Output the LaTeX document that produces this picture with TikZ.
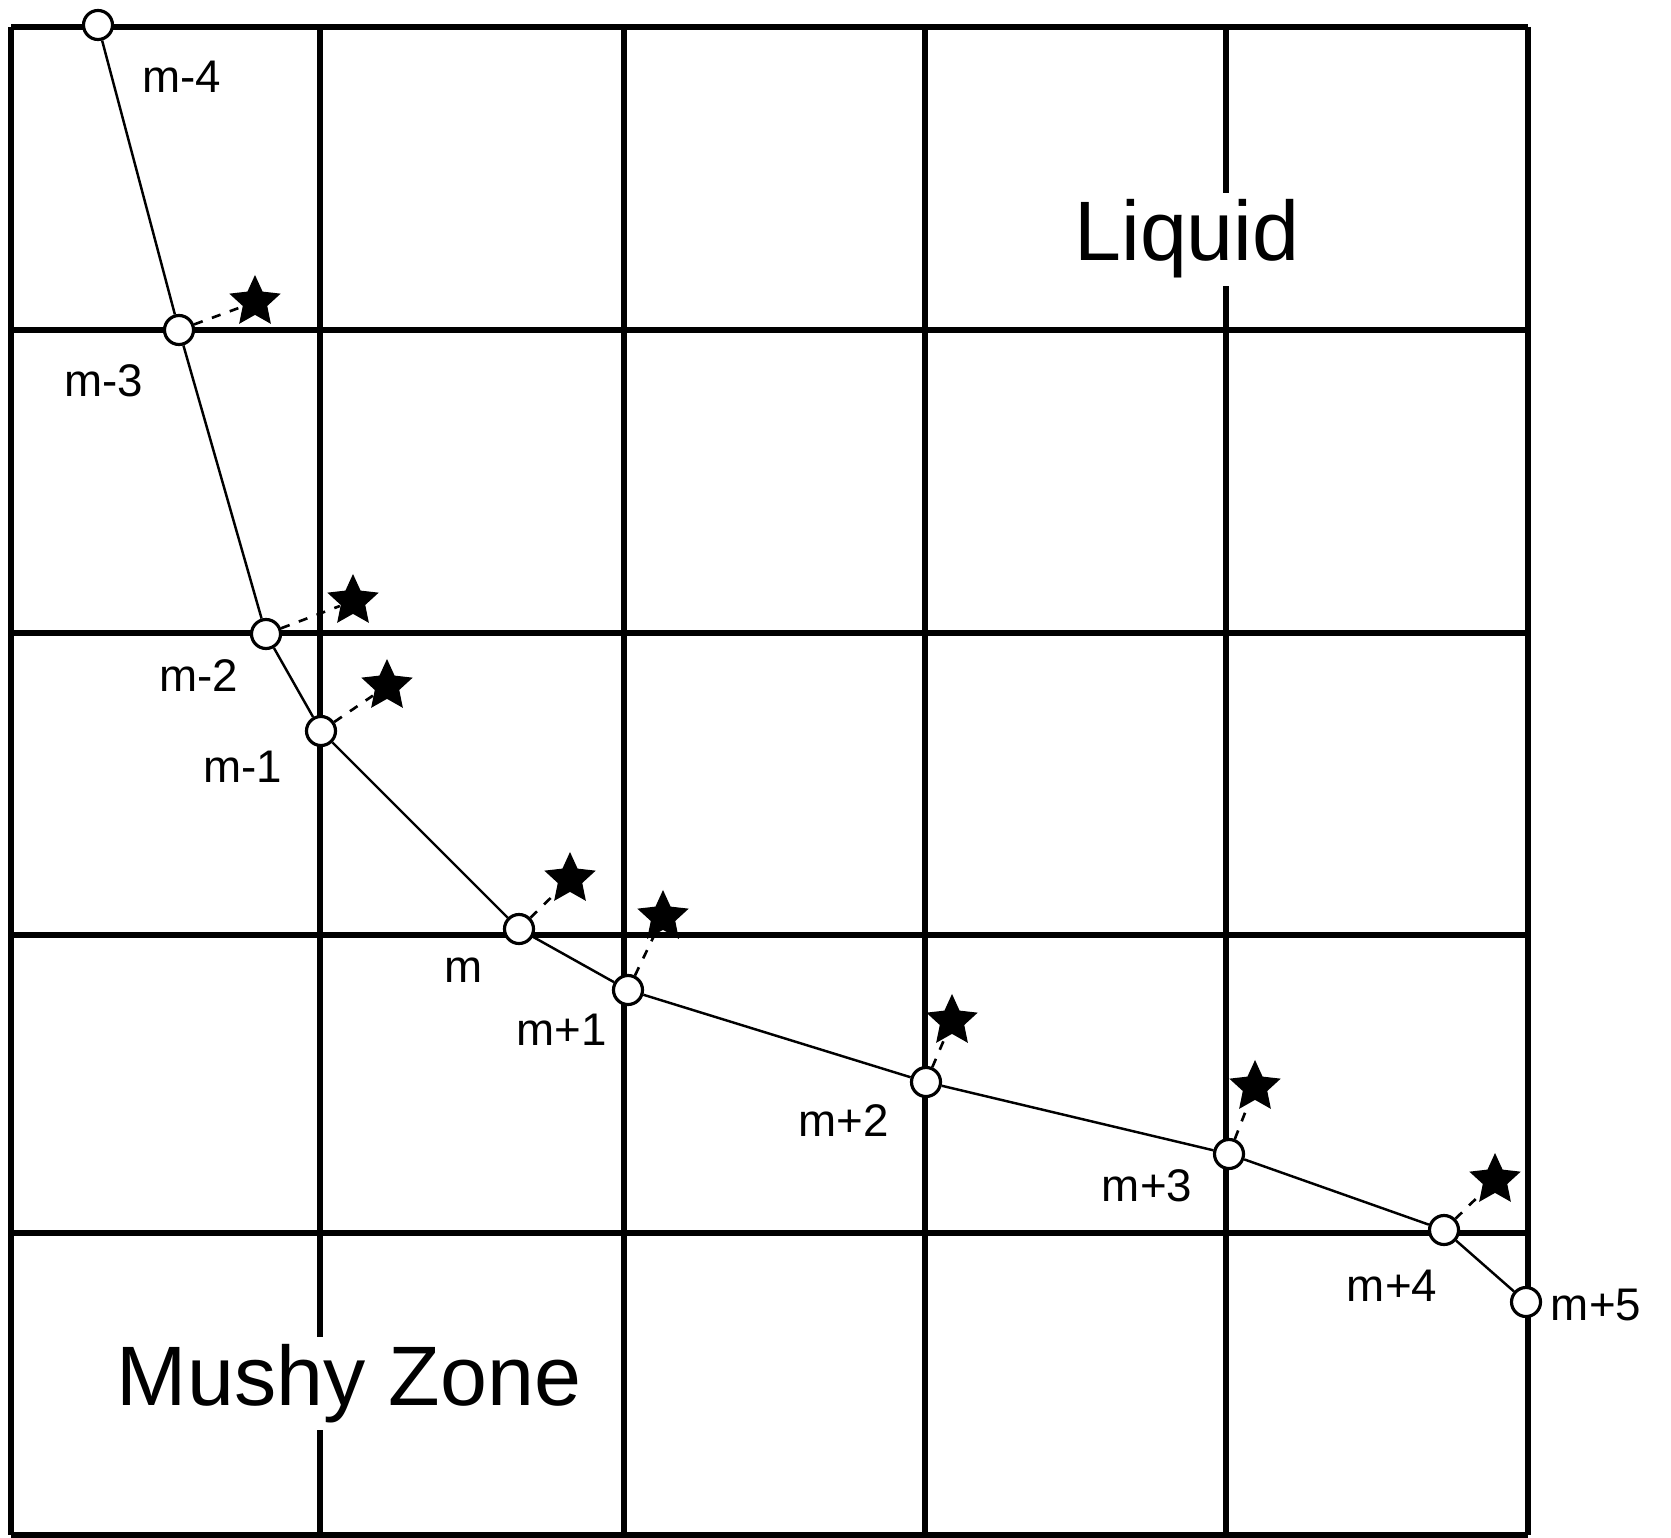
\documentclass[tikz,border=0pt]{standalone}
\usepackage{fontspec}
\setmainfont{Liberation Sans}
\usetikzlibrary{shapes.geometric}

\begin{document}
\begin{tikzpicture}[x=0.01cm,y=-0.01cm,
    gridline/.style={line width=1.6pt},
    pt/.style={circle,draw,fill=white,line width=0.9pt,inner sep=0pt,minimum size=0.29cm},
    starmark/.style={star,star points=5,star point ratio=2.1,fill=black,inner sep=0pt,minimum size=0.54cm},
    guess/.style={line width=0.75pt,dash pattern=on 2.6pt off 2.8pt},
    ptlabel/.style={font=\fontsize{13}{15}\selectfont,inner sep=0pt},
    zonelabel/.style={font=\fontsize{24}{28}\selectfont,fill=white,inner sep=2pt,anchor=base}
  ]
    \useasboundingbox (0,0) rectangle (1671,1537);

    % grid
    \foreach \gx in {11,320,624,925,1226,1528}
      \draw[gridline] (\gx,27) -- (\gx,1535);
    \foreach \gy in {27,330,633,935,1233,1535}
      \draw[gridline] (11,\gy) -- (1528,\gy);

    \node[zonelabel] (liquid) at (1187,261) {Liquid};
    \node[zonelabel] (mushy) at (349,1405) {Mushy Zone};

    % interface points
    \node[pt] (c1) at (98,25) {};
    \node[pt] (c2) at (179,330) {};
    \node[pt] (c3) at (266,634) {};
    \node[pt] (c4) at (321,731) {};
    \node[pt] (c5) at (519,929) {};
    \node[pt] (c6) at (628,990) {};
    \node[pt] (c7) at (926,1082) {};
    \node[pt] (c8) at (1229,1154) {};
    \node[pt] (c9) at (1444,1230) {};
    \node[pt] (c10) at (1526,1302) {};

    \draw[line width=0.7pt] (c1) -- (c2) -- (c3) -- (c4) -- (c5) -- (c6)
      -- (c7) -- (c8) -- (c9) -- (c10);

    % new positions
    \node[starmark] (s2) at (255,302) {};
    \node[starmark] (s3) at (353,601) {};
    \node[starmark] (s4) at (387,686) {};
    \node[starmark] (s5) at (570,879) {};
    \node[starmark] (s6) at (663,917) {};
    \node[starmark] (s7) at (952,1021) {};
    \node[starmark] (s8) at (1255,1087) {};
    \node[starmark] (s9) at (1495,1180) {};

    \foreach \i in {2,...,9}
      \draw[guess] (c\i) -- (s\i);

    \node[ptlabel] (l1) at (182,77) {m-4};
    \node[ptlabel] (l2) at (104,381) {m-3};
    \node[ptlabel] (l3) at (199,676) {m-2};
    \node[ptlabel] (l4) at (243,767) {m-1};
    \node[ptlabel] (l5) at (464,970) {m};
    \node[ptlabel] (l6) at (562,1030) {m+1};
    \node[ptlabel] (l7) at (844,1121) {m+2};
    \node[ptlabel] (l8) at (1147,1186) {m+3};
    \node[ptlabel] (l9) at (1392,1286) {m+4};
    \node[ptlabel] (l10) at (1596,1305) {m+5};
  \end{tikzpicture}
\end{document}
